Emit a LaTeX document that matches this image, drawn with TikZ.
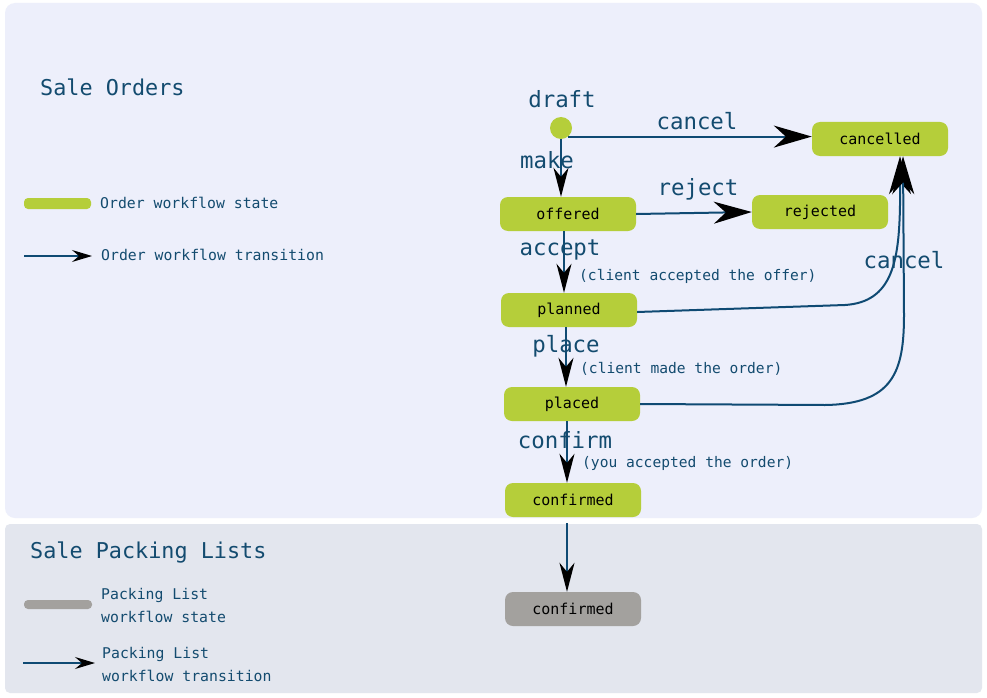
\documentclass[tikz,border=0pt]{standalone}
\usepackage{fontspec}
\setmainfont{DejaVu Sans Mono}
\usetikzlibrary{arrows.meta,calc}
\definecolor{upbg}{HTML}{EDEFFB}
\definecolor{lowbg}{HTML}{E3E6EE}
\definecolor{stgreen}{HTML}{B5CE3A}
\definecolor{stgray}{HTML}{A3A19E}
\definecolor{tblue}{HTML}{134B6F}
\definecolor{eblue}{HTML}{0F4A73}
\tikzset{
  statebox/.style={rounded corners=8pt, fill=stgreen, minimum width=136pt, minimum height=34pt, inner sep=0pt, text=black, font=\fontsize{15}{16}\selectfont},
  edge/.style={draw=eblue, line width=2pt},
  bigtip/.style={-{Stealth[length=38pt,width=22pt,inset=12pt,fill=black,color=black]}},
  smalltip/.style={-{Stealth[length=29pt,width=15pt,inset=9pt,fill=black,color=black]}},
  legtip/.style={-{Stealth[length=20pt,width=12pt,inset=7pt,fill=black,color=black]}},
  lab/.style={text=tblue, font=\fontsize{22.4}{24}\selectfont, inner sep=0pt},
  note/.style={text=tblue, font=\fontsize{14.6}{16}\selectfont, inner sep=0pt, anchor=west},
  title/.style={text=tblue, font=\fontsize{21.8}{24}\selectfont, inner sep=0pt, anchor=west},
  legtext/.style={text=tblue, font=\fontsize{14.8}{23}\selectfont, inner sep=0pt, anchor=west, align=left},
}
\begin{document}
\begin{tikzpicture}[x=1pt,y=-1pt]
\useasboundingbox (0,0) rectangle (987,698);
\fill[white] (0,0) rectangle (987,698);
\fill[upbg, rounded corners=10pt] (5,3) rectangle (982,518);
\fill[lowbg, rounded corners=5pt] (5,524) rectangle (982,693);

% titles
\node[title] (t1) at (40,87) {Sale Orders};
\node[title] (t2) at (30,552) {Sale Packing Lists};

% legend
\fill[stgreen, rounded corners=4pt] (24,198) rectangle (91,209);
\node[legtext] (lg1) at (100,203) {Order workflow state};
\coordinate (la1) at (24,256);
\coordinate (lb1) at (92,256);
\draw[edge, line width=1.3pt, legtip] (la1) -- (lb1);
\node[legtext] (lg2) at (101,255) {Order workflow transition};
\fill[stgray, rounded corners=4pt] (24,600) rectangle (92,609);
\node[legtext] (lg3) at (101,605) {Packing List\\workflow state};
\coordinate (la2) at (23,663);
\coordinate (lb2) at (95,663);
\draw[edge, line width=1.3pt, legtip] (la2) -- (lb2);
\node[legtext] (lg4) at (102,664) {Packing List\\workflow transition};

% states
\node[circle, fill=stgreen, minimum size=22pt, inner sep=0pt] (draft) at (561,128) {};
\node[statebox] (cancelled) at (880,139) {cancelled};
\node[statebox] (offered) at (568,214) {offered};
\node[statebox] (rejected) at (820,212) {rejected};
\node[statebox] (planned) at (569,310) {planned};
\node[statebox] (placed) at (572,404) {placed};
\node[statebox] (confirmed) at (573,500) {confirmed};
\node[statebox, fill=stgray] (plconf) at (573,609) {confirmed};

% transitions
\draw[edge, bigtip] (draft.-50) -- (cancelled.west |- draft.-50);
\draw[edge, smalltip] (draft.south) -- (draft.south |- offered.north);
\draw[edge, bigtip] (offered.east) -- (rejected.west);
\draw[edge, smalltip] ([xshift=-4pt]offered.south) -- ([xshift=-4pt]offered.south |- planned.north);
\draw[edge, smalltip] ([xshift=-3pt]planned.south) -- ([xshift=-3pt]planned.south |- placed.north);
\draw[edge, smalltip] ([xshift=-5pt]placed.south) -- ([xshift=-5pt]placed.south |- confirmed.north);
\draw[edge, smalltip] ([xshift=-6pt,yshift=-6pt]confirmed.south) -- ([xshift=-6pt]confirmed.south |- plconf.north);
\draw[edge, bigtip] ([yshift=-2pt]planned.east) -- (845,305) .. controls (892,302) and (899,262) .. (900,205) -- ([xshift=20pt]cancelled.south);
\draw[edge, bigtip] (placed.east) -- (825,405) .. controls (893,404) and (904,372) .. (904,315) -- ([xshift=23pt]cancelled.south);

% labels
\node[lab] (ldraft) at (562,99) {draft};
\node[lab] (lc1) at (697,121) {cancel};
\node[lab] (lmake) at (547,160) {make};
\node[lab] (lrej) at (698,189) {reject};
\node[lab] (lacc) at (560,250) {accept};
\node[note] (n1) at (579,276) {(client accepted the offer)};
\node[lab] (lc2) at (904,260) {cancel};
\node[lab] (lplace) at (566,346) {place};
\node[note] (n2) at (580,369) {(client made the order)};
\node[lab] (lconf) at (565,440) {confirm};
\node[note] (n3) at (582,463) {(you accepted the order)};
\end{tikzpicture}
\end{document}
